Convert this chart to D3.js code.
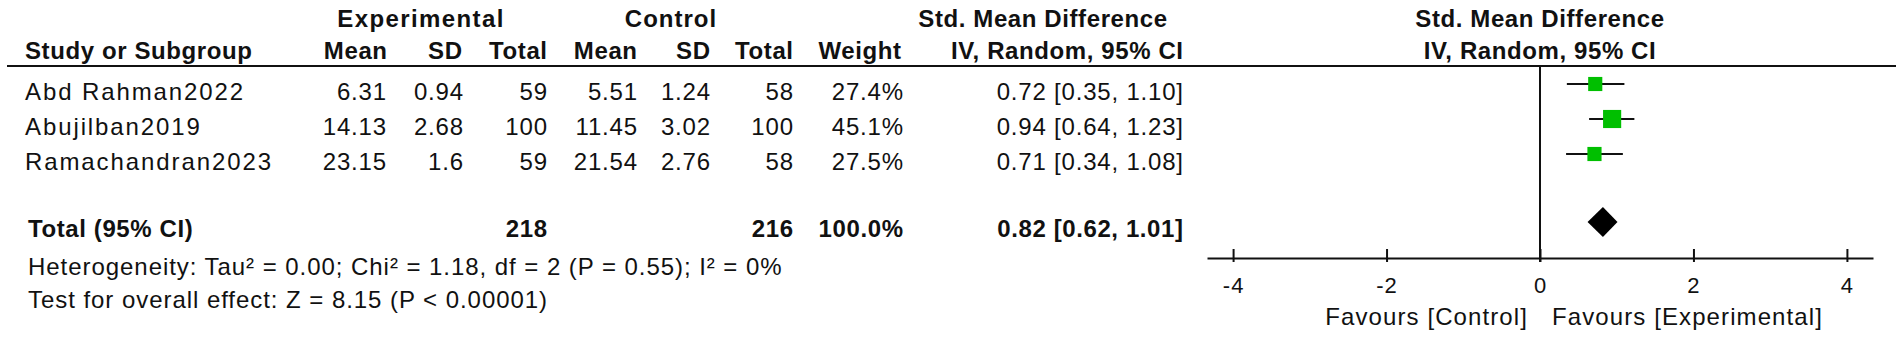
<!DOCTYPE html>
<html><head><meta charset="utf-8">
<script src="https://cdn.jsdelivr.net/npm/d3@7"></script>
<style>
html,body{margin:0;padding:0;background:#fff;}
svg{display:block;}
text{font-family:"Liberation Sans",Arial,sans-serif;fill:#111;font-size:24px;}
.b{font-weight:bold;}
</style></head><body>
<svg id="c" width="1902" height="340"></svg>
<script>
// ---- data ----
const studies = ["Abd Rahman2022", "Abujilban2019", "Ramachandran2023"];
const expMean = [6.31, 14.13, 23.15];
const expSD = [0.94, 2.68, 1.6];
const expN = [59, 100, 59];
const ctlMean = [5.51, 11.45, 21.54];
const ctlSD = [1.24, 3.02, 2.76];
const ctlN = [58, 100, 58];
const weights = [27.4, 45.1, 27.5];
const smd = [0.72, 0.94, 0.71];
const ciLow = [0.35, 0.64, 0.34];
const ciHigh = [1.10, 1.23, 1.08];
const totalN = [218, 216];
const totalWeight = [100.0];
const totalEffect = [0.82, 0.62, 1.01]; // estimate, low, high
const axisTicks = [-4, -2, 0, 2, 4];
const headerTop = ["Experimental", "Control", "Std. Mean Difference", "Std. Mean Difference"];
const headerCols = ["Study or Subgroup", "Mean", "SD", "Total", "Mean", "SD", "Total", "Weight", "IV, Random, 95% CI", "IV, Random, 95% CI"];
const totalLabel = "Total (95% CI)";
const heterogeneity = "Heterogeneity: Tau² = 0.00; Chi² = 1.18, df = 2 (P = 0.55); I² = 0%";
const overallTest = "Test for overall effect: Z = 8.15 (P < 0.00001)";
const favours = ["Favours [Control]", "Favours [Experimental]"];

// ---- layout ----
const svg = d3.select("#c");
const x = d3.scaleLinear().domain([-4.34, 4.34]).range([1207, 1873]);
const rowY = d3.scaleLinear().domain([0, 2]).range([100, 170]);
const totalY = 237, hetY = 275, testY = 308, axisY = 258, lineY = 66;
const colRight = [386, 463, 547, 637, 710, 793, 903, 1183];
const fmtCI = (e, l, h) => e.toFixed(2) + " [" + l.toFixed(2) + ", " + h.toFixed(2) + "]";

function txt(g, s, xx, yy, anchor, cls, ls) {
  return g.append("text").attr("x", xx).attr("y", yy).attr("text-anchor", anchor || "start")
    .attr("class", cls || null).style("letter-spacing", (ls || 0) + "px").text(s);
}

const T = svg.append("g");
// headers
txt(T, headerTop[0], 421, 27, "middle", "b", 1.4);
txt(T, headerTop[1], 671, 27, "middle", "b", 1.0);
txt(T, headerTop[2], 1043, 27, "middle", "b", 0.6);
txt(T, headerTop[3], x(0), 27, "middle", "b", 0.6);
txt(T, headerCols[0], 25, 59, "start", "b", 0.6);
const hdrRight = [387, 462, 547, 637, 710, 793, 901, 1183];
for (let i = 1; i <= 8; i++) txt(T, headerCols[i], hdrRight[i - 1] + 0.6, 59, "end", "b", 0.6);
txt(T, headerCols[9], x(0), 59, "middle", "b", 0.6);
T.append("line").attr("x1", 7).attr("x2", 1896).attr("y1", lineY).attr("y2", lineY)
  .attr("stroke", "#111").attr("stroke-width", 2);

// study rows
const colVals = [expMean.map(String), expSD.map(String), expN.map(String), ctlMean.map(String),
  ctlSD.map(String), ctlN.map(String), weights.map(w => w.toFixed(1) + "%"),
  smd.map((e, i) => fmtCI(e, ciLow[i], ciHigh[i]))];
studies.forEach((s, i) => {
  txt(T, s, 25, rowY(i), "start", null, 1.9);
  colVals.forEach((vals, c) => txt(T, vals[i], colRight[c] + 0.8, rowY(i), "end", null, 0.8));
});

// total row
txt(T, totalLabel, 28, totalY, "start", "b", 0.6);
txt(T, String(totalN[0]), colRight[2] + 0.6, totalY, "end", "b", 0.6);
txt(T, String(totalN[1]), colRight[5] + 0.6, totalY, "end", "b", 0.6);
txt(T, totalWeight[0].toFixed(1) + "%", colRight[6] + 0.6, totalY, "end", "b", 0.6);
txt(T, fmtCI(totalEffect[0], totalEffect[1], totalEffect[2]), colRight[7] + 0.6, totalY, "end", "b", 0.6);
txt(T, heterogeneity, 28, hetY, "start", null, 0.95);
txt(T, overallTest, 28, testY, "start", null, 0.95);

// ---- plot ----
const P = svg.append("g");
P.append("line").attr("x1", x(0)).attr("x2", x(0)).attr("y1", lineY).attr("y2", axisY + 4)
  .attr("stroke", "#111").attr("stroke-width", 2);

const ax = P.append("g").attr("transform", `translate(0,${axisY})`)
  .call(d3.axisBottom(x).tickValues(axisTicks).tickSizeOuter(0).tickFormat(d => String(d)));
ax.select(".domain").attr("stroke", "#111").attr("stroke-width", 2);
ax.selectAll(".tick line").attr("y1", -9).attr("y2", 4).attr("stroke", "#111").attr("stroke-width", 2);
ax.selectAll(".tick text").attr("y", 34.5).attr("dy", 0).attr("fill", "#111")
  .style("font-size", "22px").style("font-family", '"Liberation Sans",Arial,sans-serif').style("letter-spacing", "1px");

// CI lines and squares
studies.forEach((s, i) => {
  const cy = rowY(i) - 16;
  P.append("line").attr("x1", x(ciLow[i])).attr("x2", x(ciHigh[i])).attr("y1", cy).attr("y2", cy)
    .attr("stroke", "#111").attr("stroke-width", 2);
  const side = 2.7 * Math.sqrt(weights[i]);
  P.append("rect").attr("x", x(smd[i]) - side / 2).attr("y", cy - side / 2)
    .attr("width", side).attr("height", side).attr("fill", "#00bf00");
});

// diamond
const dy = totalY - 15;
P.append("polygon").attr("points", [
  [x(totalEffect[1]), dy], [x(totalEffect[0]), dy - 15], [x(totalEffect[2]), dy], [x(totalEffect[0]), dy + 15]
].map(p => p.join(",")).join(" ")).attr("fill", "#000");

txt(P, favours[0], x(0) - 12, 325, "end", null, 1.1);
txt(P, favours[1], x(0) + 12, 325, "start", null, 1.1);
</script>
</body></html>
